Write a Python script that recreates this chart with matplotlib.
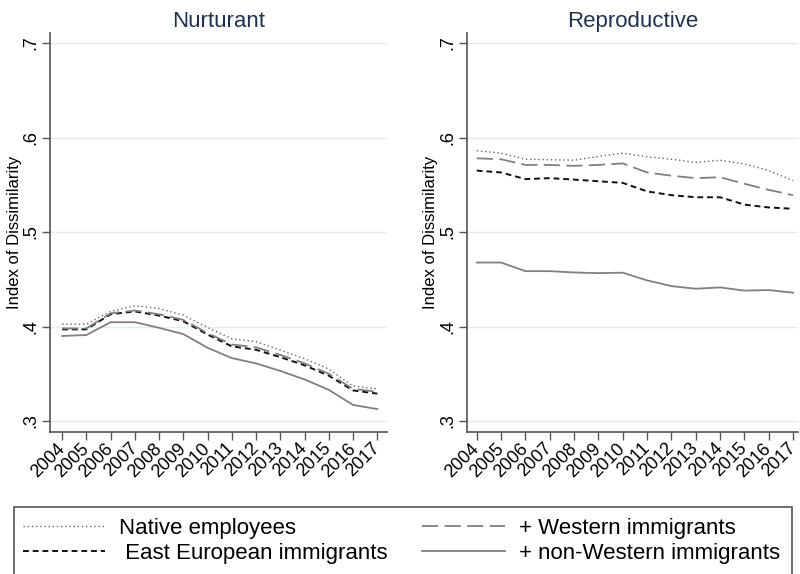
import matplotlib
import matplotlib.pyplot as plt
from matplotlib.patches import Rectangle

matplotlib.rc('font', family=['Liberation Sans', 'DejaVu Sans'])

years = list(range(2004, 2018))

# Index of dissimilarity, nurturant occupations
nurt_native = [0.4025, 0.4025, 0.416, 0.422, 0.419, 0.412, 0.399, 0.387, 0.384, 0.375, 0.366, 0.355, 0.337, 0.334]
nurt_eastern = [0.397, 0.397, 0.413, 0.416, 0.4116, 0.4056, 0.3915, 0.379, 0.3754, 0.3676, 0.359, 0.348, 0.3324, 0.329]
nurt_western = [0.398, 0.398, 0.414, 0.417, 0.413, 0.407, 0.393, 0.381, 0.378, 0.370, 0.361, 0.350, 0.334, 0.331]
nurt_nonwestern = [0.390, 0.391, 0.4046, 0.4046, 0.3986, 0.392, 0.3775, 0.3666, 0.361, 0.353, 0.344, 0.333, 0.317, 0.3127]

# Index of dissimilarity, reproductive occupations
repr_native = [0.586, 0.5835, 0.577, 0.5765, 0.576, 0.580, 0.5835, 0.5796, 0.577, 0.5737, 0.576, 0.572, 0.565, 0.5544]
repr_eastern = [0.565, 0.563, 0.556, 0.557, 0.5555, 0.5537, 0.552, 0.543, 0.539, 0.5368, 0.5368, 0.529, 0.526, 0.5246]
repr_western = [0.578, 0.577, 0.571, 0.571, 0.570, 0.571, 0.5726, 0.563, 0.5596, 0.557, 0.558, 0.551, 0.5446, 0.539]
repr_nonwestern = [0.4677, 0.4677, 0.4586, 0.4586, 0.4572, 0.4565, 0.457, 0.4488, 0.4428, 0.440, 0.4414, 0.438, 0.4386, 0.4358]

labels = ['Native employees', ' East European immigrants', '+ Western immigrants', '+ non-Western immigrants']
styles = [
    dict(color='#666666', linestyle=(0, (1, 2)), lw=1.0),
    dict(color='#111111', linestyle=(0, (3, 2)), lw=1.4),
    dict(color='#808080', linestyle=(0, (9, 3.5)), lw=1.3),
    dict(color='#808080', linestyle='-', lw=1.3),
]

fig = plt.figure(figsize=(8, 5.74), dpi=100)
ax1 = fig.add_axes([50/800, 1-432/574, 337/800, 399/574])
ax2 = fig.add_axes([467/800, 1-432/574, 331/800, 399/574])

panels = [
    (ax1, 'Nurturant', [nurt_native, nurt_eastern, nurt_western, nurt_nonwestern], (2003.5, 2017.4), -28/337),
    (ax2, 'Reproductive', [repr_native, repr_eastern, repr_western, repr_nonwestern], (2003.6, 2017.2), -29/331),
]

handles = []
for ax, title, series, xlim, labx in panels:
    handles = []
    for vals, st, lab in zip(series, styles, labels):
        h, = ax.plot(years, vals, label=lab, **st)
        handles.append(h)
    ax.set_title(title, fontsize=16, color='#1e3250', pad=4)
    ax.set_xlim(*xlim)
    ax.set_ylim(0.2884, 0.7106)
    ax.set_yticks([0.3, 0.4, 0.5, 0.6, 0.7])
    ax.set_yticklabels(['.3', '.4', '.5', '.6', '.7'], rotation=90, va='center')
    ax.set_xticks(years)
    ax.set_xticklabels([str(y) for y in years], rotation=45, ha='right', va='center',
                       rotation_mode='anchor')
    ax.tick_params(axis='both', labelsize=13, color='#555555', length=6, width=1)
    ax.tick_params(axis='x', pad=4)
    ax.tick_params(axis='y', pad=2)
    ax.set_ylabel('Index of Dissimilarity', fontsize=12)
    ax.yaxis.set_label_coords(labx, 0.5)
    ax.grid(axis='y', color='#e3eeee', lw=1)
    ax.set_axisbelow(True)
    for s in ['top', 'right']:
        ax.spines[s].set_visible(False)
    for s in ['left', 'bottom']:
        ax.spines[s].set_color('#555555')
        ax.spines[s].set_linewidth(1.2)

# legend box runs past the lower edge of the figure
fig.patches.append(Rectangle((14/800, -0.05), 778/800, 0.05 + 1-507/574,
                             transform=fig.transFigure, fill=False,
                             edgecolor='#555555', lw=1.2))

leg = fig.legend(handles, labels, ncol=2, loc='upper left',
                 bbox_to_anchor=(16/800, 1-511/574), frameon=False,
                 fontsize=16, handlelength=3.7, handletextpad=0.65,
                 columnspacing=1.55, borderaxespad=0, borderpad=0.3,
                 labelspacing=0.2)

fig.savefig('out.png', dpi=100)
